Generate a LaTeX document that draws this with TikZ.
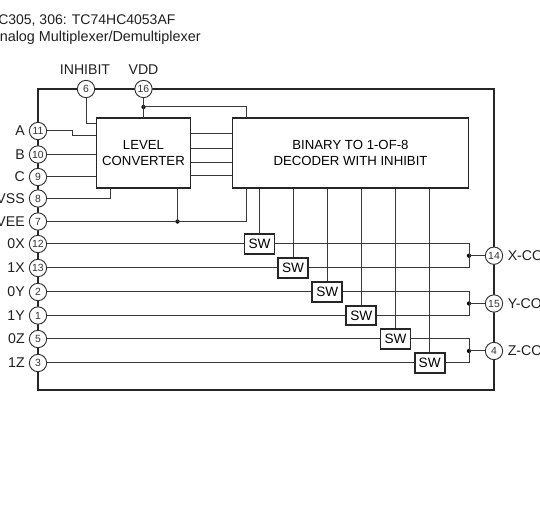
\documentclass[tikz,border=0pt]{standalone}
\usepackage{fontspec}
\setmainfont{Liberation Sans}
\tikzset{
  x=0.75pt,y=-0.75pt,
  frame/.style={draw=black!85,line width=1.6pt},
  blockbox/.style={draw=black!85,fill=white,line width=1.4pt,inner sep=0pt,minimum width=#1,align=center,font=\fontsize{9.9pt}{12.2pt}\selectfont},
  swbox/.style={draw=black!85,fill=white,line width=1.3pt,inner sep=0pt,minimum width=22.5pt,minimum height=14.6pt,font=\fontsize{10.2pt}{11pt}\selectfont},
  pin/.style={circle,draw=black!80,fill=white,line width=0.7pt,inner sep=0pt,minimum size=13pt,font=\fontsize{7.8pt}{8pt}\selectfont,text=black!80},
  wire/.style={draw=black!78,line width=0.75pt},
  lab/.style={font=\fontsize{10.6pt}{12pt}\selectfont,inner sep=0pt,text=black!88},
  dotn/.style={circle,fill=black,inner sep=0pt,minimum size=3.2pt},
}
\begin{document}
\begin{tikzpicture}
\useasboundingbox (0,0) rectangle (540,524);
\clip (0,0) rectangle (540,524);
\node[lab,font=\fontsize{10.5pt}{12pt}\selectfont,anchor=base west] (h1) at (-2,25) {C305, 306: TC74HC4053AF};
\node[lab,font=\fontsize{10.8pt}{12pt}\selectfont,anchor=base west] (h2) at (-0.5,41.5) {nalog Multiplexer/Demultiplexer};
% frame
\coordinate (ftl) at (38,89); \coordinate (ftr) at (494,89);
\coordinate (fbl) at (38,390); \coordinate (fbr) at (494,390);
\draw[frame] (ftl) -- (ftr) -- (fbr) -- (fbl) -- cycle;
% blocks
\node[blockbox=70.5pt,minimum height=52.5pt] (lc) at (143.5,153) {LEVEL\\CONVERTER};
\node[blockbox=177pt,minimum height=52pt] (dec) at (350.5,153) {BINARY TO 1-OF-8\\DECODER WITH INHIBIT};
% pins
\foreach \n/\num/\lbl/\yy in {pa/11/A/131,pb/10/B/154.5,pc/9/C/177,pvss/8/VSS/198.5,pvee/7/VEE/221.5,px0/12/0X/244,px1/13/1X/268,py0/2/0Y/292,py1/1/1Y/315.5,pz0/5/0Z/339,pz1/3/1Z/363}{
  \node[pin] (\n) at (38,\yy) {\num};
  \node[lab,anchor=east] (l\n) at (25,\yy) {\lbl};
}
\node[pin] (pinh) at (86,89) {6};
\node[pin] (pvdd) at (143.5,89) {16};
\node[lab,anchor=base] (linh) at (85,75) {INHIBIT};
\node[lab,anchor=base] (lvdd) at (143.5,75) {VDD};
\node[pin] (px) at (494,255.7) {14};
\node[pin] (py) at (494,303.5) {15};
\node[pin] (pz) at (494,351) {4};
\node[lab,anchor=west] (lx) at (507.5,255.7) {X-CO};
\node[lab,anchor=west] (ly) at (507.5,303.5) {Y-CO};
\node[lab,anchor=west] (lz) at (507.5,351) {Z-CO};
% switches
\node[swbox] (s1) at (259.5,244) {SW};
\node[swbox] (s2) at (293,268) {SW};
\node[swbox] (s3) at (327.3,292) {SW};
\node[swbox] (s4) at (361.3,315.5) {SW};
\node[swbox] (s5) at (395.5,339) {SW};
\node[swbox] (s6) at (429.7,363) {SW};
% junctions
\node[dotn] (jvdd) at (143.5,107) {};
\node[dotn] (jvee) at (177.5,221.5) {};
\node[dotn] (jx) at (469,255.7) {};
\node[dotn] (jy) at (469,303.5) {};
\node[dotn] (jz) at (469,351) {};
% left wires
\draw[wire] (pinh.south) |- (96,124);
\draw[wire] (pa.east) -- (72,131) -- (72,136) -- (96,136);
\draw[wire] (pb.east) -- (96,154.5);
\draw[wire] (pc.east) -- (96,177);
\draw[wire] (pvss.east) -| (110,188);
\draw[wire] (pvee.east) -- (246,221.5) -- (246,188);
\draw[wire] (jvee.center) -- (177.5,188);
\draw[wire] (pvdd.south) -- (143.5,118);
\draw[wire] (jvdd.center) -- (246,107) -- (246,118);
% between blocks
\foreach \yy in {133.7,148.5,162.5,176}{\draw[wire] (191,\yy) -- (232,\yy);}
% decoder to switches
\foreach \s in {s1,s2,s3,s4,s5,s6}{\draw[wire] (\s.north) -- (\s.north |- dec.south);}
% inputs
\draw[wire] (px0.east) -- (s1.west);
\draw[wire] (px1.east) -- (s2.west);
\draw[wire] (py0.east) -- (s3.west);
\draw[wire] (py1.east) -- (s4.west);
\draw[wire] (pz0.east) -- (s5.west);
\draw[wire] (pz1.east) -- (s6.west);
% outputs
\draw[wire] (s1.east) -- (469,244) -- (469,268) -- (s2.east);
\draw[wire] (s3.east) -- (469,292) -- (469,315.5) -- (s4.east);
\draw[wire] (s5.east) -- (469,339) -- (469,363) -- (s6.east);
\draw[wire] (jx.center) -- (px.west);
\draw[wire] (jy.center) -- (py.west);
\draw[wire] (jz.center) -- (pz.west);
\end{tikzpicture}
\end{document}
